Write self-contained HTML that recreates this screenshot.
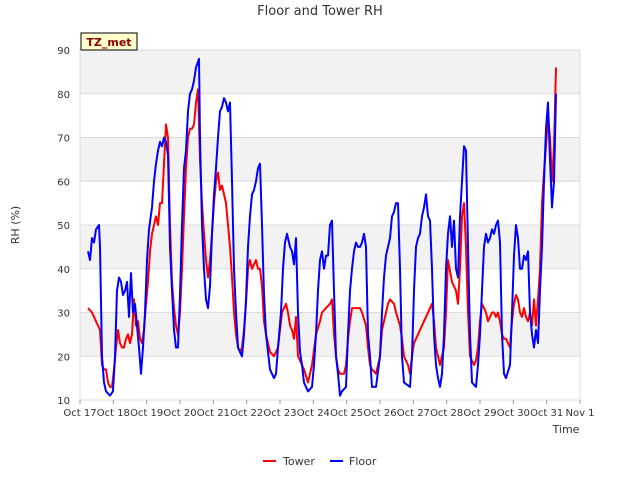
<!DOCTYPE html>
<html><head><meta charset="utf-8"><style>
body{margin:0;background:#fff;font-family:"Liberation Sans","DejaVu Sans",sans-serif}
svg text{font-family:"DejaVu Sans","Liberation Sans",sans-serif}
</style></head><body>
<svg id="chart" width="640" height="480" xmlns="http://www.w3.org/2000/svg">
<text x="320" y="15" text-anchor="middle" font-size="13" fill="#333">Floor and Tower RH</text>
<g id="plot"></g>
<text transform="translate(19,225) rotate(-90)" text-anchor="middle" font-size="11" fill="#333">RH (%)</text>
<text x="566" y="433" text-anchor="middle" font-size="11" fill="#333">Time</text>
<g>
<rect x="81" y="33" width="56" height="17" fill="#ffffcc" stroke="#000" stroke-width="1"/>
<text x="109" y="46" text-anchor="middle" font-size="11" font-weight="bold" fill="#8b0000">TZ_met</text>
</g>
<g>
<g><line x1="263" y1="461" x2="276" y2="461" stroke="#f00" stroke-width="2"/><text x="283" y="465" font-size="11" fill="#333">Tower</text></g>
<g><line x1="330" y1="461" x2="343" y2="461" stroke="#00f" stroke-width="2"/><text x="349" y="465" font-size="11" fill="#333">Floor</text></g>
</g>
</svg>
<script>
const xTickLabels=["Oct 17","Oct 18","Oct 19","Oct 20","Oct 21","Oct 22","Oct 23","Oct 24","Oct 25","Oct 26","Oct 27","Oct 28","Oct 29","Oct 30","Oct 31","Nov 1"];
const yTickLabels=[10,20,30,40,50,60,70,80,90];
const floorDays=[.24,.30,.36,.42,.48,.57,.60,.66,.72,.78,.90,.99,1.05,1.11,1.17,1.23,1.29,1.35,1.41,1.47,1.53,1.59,1.65,1.71,1.77,1.83,1.89,1.95,2.01,2.07,2.16,2.22,2.28,2.34,2.40,2.46,2.52,2.58,2.64,2.70,2.76,2.82,2.88,2.94,3.00,3.06,3.12,3.18,3.24,3.30,3.36,3.42,3.48,3.57,3.60,3.66,3.72,3.78,3.84,3.90,3.96,4.02,4.08,4.14,4.20,4.26,4.32,4.38,4.44,4.50,4.56,4.62,4.68,4.74,4.80,4.86,4.92,4.98,5.04,5.10,5.16,5.22,5.28,5.34,5.40,5.46,5.52,5.58,5.70,5.76,5.82,5.88,5.94,6.03,6.09,6.15,6.21,6.30,6.36,6.42,6.48,6.54,6.60,6.66,6.72,6.78,6.84,6.96,7.02,7.08,7.14,7.20,7.26,7.32,7.38,7.44,7.50,7.56,7.62,7.68,7.74,7.80,7.86,7.98,8.04,8.10,8.16,8.22,8.28,8.34,8.40,8.46,8.52,8.58,8.64,8.70,8.76,8.88,9.00,9.06,9.12,9.18,9.24,9.30,9.36,9.42,9.48,9.54,9.60,9.66,9.72,9.90,9.96,10.02,10.08,10.14,10.20,10.26,10.32,10.38,10.44,10.50,10.56,10.62,10.68,10.74,10.80,10.86,10.92,10.98,11.04,11.10,11.16,11.22,11.28,11.34,11.40,11.46,11.52,11.58,11.64,11.70,11.76,11.88,11.94,12.00,12.06,12.12,12.18,12.24,12.30,12.36,12.42,12.48,12.54,12.60,12.66,12.72,12.78,12.90,12.96,13.02,13.08,13.14,13.20,13.26,13.32,13.38,13.44,13.50,13.56,13.62,13.68,13.74,13.80,13.86,13.92,13.98,14.04,14.10,14.16,14.22,14.28];
const floorRH=[44,42,47,46,49,50,45,20,14,12,11,12,20,35,38,37,34,35,37,29,39,30,32,27,22,16,22,30,42,49,54,60,64,67,69,68,70,69,66,45,35,26,22,22,34,50,63,67,76,80,81,83,86,88,70,50,40,33,31,36,48,57,63,70,76,77,79,78,76,78,60,40,30,22,21,20,25,33,45,52,57,58,60,63,64,50,34,25,17,16,15,16,22,30,40,46,48,45,44,41,47,30,21,18,14,13,12,13,18,25,35,42,44,40,43,43,50,51,35,20,16,11,12,13,25,35,40,44,46,45,45,46,48,45,25,20,13,13,20,30,38,43,45,47,52,53,55,55,40,20,14,13,20,35,45,47,48,52,54,57,52,51,40,25,18,15,13,16,25,40,48,52,45,51,40,38,52,60,68,67,45,25,14,13,18,25,35,45,48,46,47,49,48,50,51,46,25,16,15,18,30,43,50,47,40,40,43,42,44,30,25,22,26,23,35,45,60,72,78,65,54,60,80];
const towerDays=[.24,.36,.48,.60,.66,.72,.78,.84,.90,.96,1.02,1.08,1.14,1.20,1.26,1.32,1.38,1.44,1.50,1.56,1.62,1.68,1.74,1.80,1.86,1.92,1.98,2.04,2.10,2.16,2.22,2.28,2.34,2.40,2.46,2.52,2.58,2.64,2.70,2.76,2.82,2.88,2.94,3.00,3.06,3.12,3.18,3.24,3.30,3.36,3.42,3.48,3.54,3.60,3.66,3.72,3.78,3.84,3.90,3.96,4.02,4.08,4.14,4.20,4.26,4.32,4.38,4.44,4.50,4.56,4.62,4.68,4.74,4.80,4.86,4.92,4.98,5.04,5.10,5.16,5.22,5.28,5.34,5.40,5.46,5.52,5.58,5.70,5.82,5.94,6.06,6.18,6.24,6.30,6.36,6.42,6.48,6.54,6.60,6.72,6.84,6.96,7.08,7.20,7.26,7.38,7.50,7.56,7.62,7.68,7.74,7.80,7.92,7.98,8.04,8.10,8.16,8.28,8.40,8.46,8.58,8.64,8.70,8.76,8.88,9.00,9.06,9.18,9.24,9.30,9.42,9.48,9.60,9.66,9.72,9.84,9.90,9.96,10.02,10.14,10.26,10.38,10.56,10.62,10.68,10.74,10.80,10.92,10.98,11.04,11.16,11.22,11.28,11.34,11.40,11.46,11.52,11.58,11.64,11.70,11.76,11.82,11.88,11.94,12.00,12.06,12.12,12.18,12.24,12.30,12.36,12.42,12.48,12.54,12.60,12.66,12.72,12.78,12.90,12.96,13.02,13.08,13.14,13.20,13.26,13.32,13.38,13.44,13.50,13.56,13.62,13.68,13.74,13.80,13.86,13.92,13.98,14.04,14.10,14.16,14.22,14.28];
const towerRH=[31,30,28,26,18,17,17,14,13,13,17,22,26,23,22,22,24,25,23,25,33,27,28,24,23,26,32,37,44,48,50,52,50,55,55,64,73,70,50,37,31,27,25,30,40,52,63,70,72,72,73,78,81,65,55,48,42,38,42,48,55,60,62,58,59,57,55,50,45,38,30,25,22,21,22,26,32,40,42,40,41,42,40,40,36,28,25,21,20,22,30,32,30,27,26,24,29,20,19,17,14,18,25,28,30,31,32,33,25,20,17,16,16,18,24,28,31,31,31,30,27,22,18,17,16,20,26,30,32,33,32,30,27,24,20,18,16,20,23,25,27,29,32,28,22,20,18,22,30,42,37,36,35,32,40,52,55,45,30,20,19,18,19,22,28,32,31,30,28,29,30,30,29,30,28,25,24,24,22,28,32,34,33,30,29,31,29,28,30,27,33,27,33,40,55,62,68,75,70,60,68,86];

const NS="http://www.w3.org/2000/svg";
const L=80,R=580,T=50,B=400;
const xs=d=>L+(R-L)*d/15;
const ys=v=>B-(B-T)*(v-10)/80;
const plot=document.getElementById('plot');
function mk(tag,attrs){const e=document.createElementNS(NS,tag);for(const k in attrs)e.setAttribute(k,attrs[k]);plot.appendChild(e);return e;}
for(let v=20;v<90;v+=20){
  const b=mk('rect',{x:L,y:ys(v+10),width:R-L,height:ys(v)-ys(v+10),fill:'#f2f2f2'});
  
  
}
yTickLabels.forEach(v=>{
  const g=mk('line',{x1:L,x2:R,y1:ys(v),y2:ys(v),stroke:'#dcdcdc','stroke-width':1});
  
  
  const t=mk('text',{x:L-10,y:ys(v)+4,'text-anchor':'end','font-size':10,fill:'#333'});
  t.textContent=v;
  
  
});
const frame=mk('rect',{x:L,y:T,width:R-L,height:B-T,fill:'none',stroke:'#dcdcdc','stroke-width':1});


xTickLabels.forEach((lab,i)=>{
  const g=mk('line',{x1:xs(i),x2:xs(i),y1:B,y2:B+4,stroke:'#999','stroke-width':1});
  
  
  const t=mk('text',{x:xs(i),y:B+16,'text-anchor':'middle','font-size':10,fill:'#333'});
  t.textContent=lab;
  
  
});
function line(days,vals,color,name){
  const p=days.map((d,i)=>xs(d).toFixed(1)+','+ys(vals[i]).toFixed(1)).join(' ');
  const e=mk('polyline',{points:p,fill:'none',stroke:color,'stroke-width':2,'stroke-linejoin':'round'});
  
  
}
line(towerDays,towerRH,'#ff0000','tower-line');
line(floorDays,floorRH,'#0000ff','floor-line');
</script>
</body></html>
